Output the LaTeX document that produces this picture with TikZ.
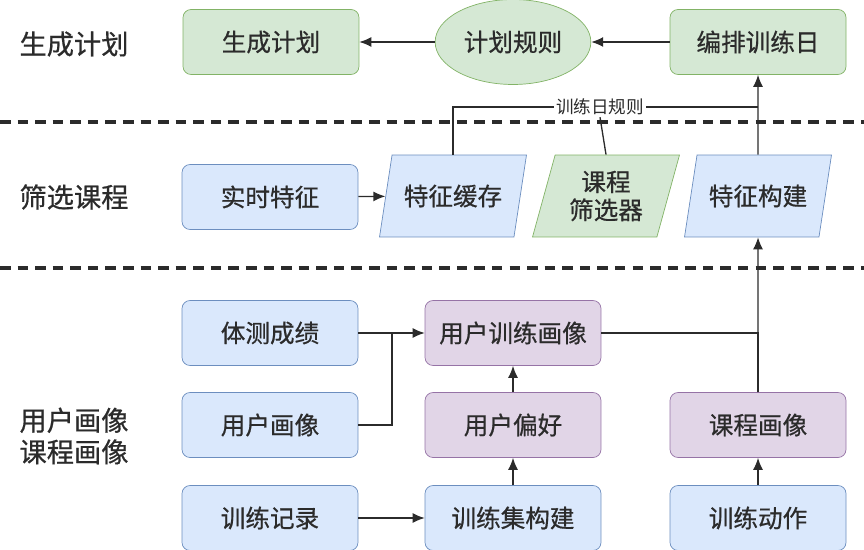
\documentclass[tikz,border=0pt]{standalone}
\usepackage{fontspec}
\setmainfont{Noto Sans CJK SC}
\newfontfamily\boxfont{Noto Sans CJK SC}[FakeBold=0.6]
\usetikzlibrary{shapes.geometric,arrows.meta}

\definecolor{grnfill}{HTML}{D5E8D4}
\definecolor{grnline}{HTML}{82B366}
\definecolor{blufill}{HTML}{DAE8FC}
\definecolor{bluline}{HTML}{6C8EBF}
\definecolor{purfill}{HTML}{E1D5E7}
\definecolor{purline}{HTML}{9673A6}
\definecolor{ink}{HTML}{2B2B2B}

\begin{document}
\begin{tikzpicture}[x=0.02cm,y=-0.02cm,
	box/.style={draw,rounded corners=0.16cm,minimum width=3.52cm,minimum height=1.3cm,font=\boxfont\fontsize{14}{17}\selectfont,text=ink},
	para/.style={draw,trapezium,trapezium left angle=70,trapezium right angle=110,trapezium stretches body,minimum width=2.94cm,minimum height=1.64cm,align=center,inner xsep=0pt,font=\boxfont\fontsize{14}{16}\selectfont,text=ink},
	grn/.style={fill=grnfill,draw=grnline},
	blu/.style={fill=blufill,draw=bluline},
	pur/.style={fill=purfill,draw=purline},
	lane/.style={font=\boxfont\fontsize{15.5}{18}\selectfont,text=ink,align=left},
	conn/.style={draw=ink,line width=0.75pt},
	arr/.style={conn,-{Latex[length=2.4mm,width=2mm]}},
	sep/.style={draw=ink,line width=2.2pt,dash pattern=on 6pt off 4pt}]
	\useasboundingbox (0,0) rectangle (864,550);
	\node[lane] (l1) at (74,44) {生成计划};
	\node[lane] (l2) at (74,197) {筛选课程};
	\node[lane] (l3) at (74,436) {用户画像\\课程画像};
	\draw[sep] (0,122) -- (864,122);
	\draw[sep] (0,268) -- (864,268);
	\node[box,grn] (plan) at (271,42) {生成计划};
	\node[draw,ellipse,grn,minimum width=2.88cm,minimum height=1.7cm,font=\boxfont\fontsize{14}{17}\selectfont,text=ink] (rule) at (513,42) {计划规则};
	\node[box,grn] (sched) at (758,42) {编排训练日};
	\node[box,blu] (live) at (270,197) {实时特征};
	\node[para,blu] (cache) at (453,196) {特征缓存};
	\node[para,grn] (filter) at (606,196) {课程\\筛选器};
	\node[para,blu] (build) at (758,196) {特征构建};
	\node[fill=white,inner sep=1pt,font=\fontsize{10}{12}\selectfont,text=ink] (dayrule) at (600,107) {训练日规则};
	\node[box,blu] (score) at (270,333) {体测成绩};
	\node[box,blu] (uport) at (270,425) {用户画像};
	\node[box,blu] (record) at (270,518) {训练记录};
	\node[box,pur] (utrain) at (513,333) {用户训练画像};
	\node[box,pur] (upref) at (513,425) {用户偏好};
	\node[box,blu] (tset) at (513,518) {训练集构建};
	\node[box,pur] (cport) at (758,425) {课程画像};
	\node[box,blu] (action) at (758,518) {训练动作};
	\coordinate (jn) at (392,333);
	\draw[arr] (rule) -- (plan);
	\draw[arr] (sched) -- (rule);
	\draw[arr] (live) -- (cache);
	\draw[conn] (cache.north) |- (dayrule.west);
	\draw[conn] (dayrule.east) -- (build.north |- dayrule);
	\draw[conn] (filter.north) -- (dayrule.south);
	\draw[arr] (build.north) -- (sched.south);
	\draw[arr] (score) -- (utrain);
	\draw[conn] (uport.east) -| (jn);
	\draw[arr] (record) -- (tset);
	\draw[arr] (tset) -- (upref);
	\draw[arr] (upref) -- (utrain);
	\draw[arr] (action) -- (cport);
	\draw[conn] (utrain.east) -| (cport.north);
	\draw[arr] (cport.north) -- (build.south);
\end{tikzpicture}
\end{document}
